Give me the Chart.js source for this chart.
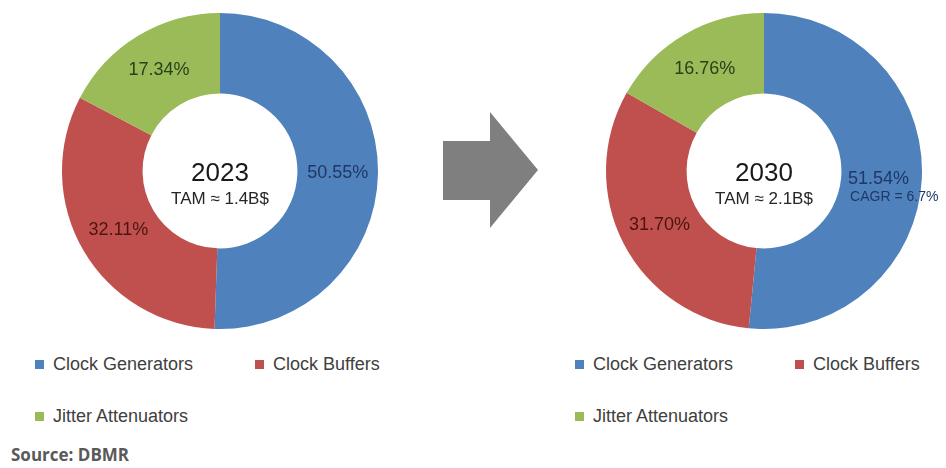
<!DOCTYPE html>
<html>
<head>
<meta charset="utf-8">
<script src="https://cdn.jsdelivr.net/npm/chart.js@4"></script>
<style>
  html, body { margin: 0; padding: 0; background: #fff; }
  #stage { position: relative; width: 946px; height: 468px; overflow: hidden; font-family: Arial, "Liberation Sans", sans-serif; }
  canvas { position: absolute; }
  #arrow {
    position: absolute; left: 443px; top: 112px; width: 95px; height: 116px; background: #7f7f7f;
    clip-path: polygon(0 29px, 47px 29px, 47px 0, 95px 58px, 47px 116px, 47px 88px, 0 88px);
  }
  .legend { position: absolute; top: 352px; }
  .legend .item { position: absolute; white-space: nowrap; font-size: 18px; color: #404040; line-height: 24px; }
  .legend .box { position: absolute; left: 0; top: 8px; width: 9px; height: 9px; }
  .legend .txt { position: absolute; left: 18px; top: 0; }
  #source { position: absolute; left: 11px; top: 443px; font-family: "Open Sans", sans-serif; font-weight: bold; font-size: 17px; color: #595959; }
</style>
</head>
<body>
<div id="stage">
  <canvas id="chart2023" width="340" height="316" style="left:50px; top:13px;"></canvas>
  <canvas id="chart2030" width="364" height="316" style="left:582px; top:13px;"></canvas>
  <div id="arrow"></div>
  <div class="legend" id="legend2023" style="left:35px;"></div>
  <div class="legend" id="legend2030" style="left:575px;"></div>
  <div id="source">Source: DBMR</div>
</div>
<script>
// Données
const segments = ['Clock Generators', 'Clock Buffers', 'Jitter Attenuators'];
const share2023 = [50.55, 32.11, 17.34];
const share2030 = [51.54, 31.70, 16.76];
const years = ['2023', '2030'];
const tamLabels = ['TAM ≈ 1.4B$', 'TAM ≈ 2.1B$'];
const cagrLabel = 'CAGR = 6.7%';

// Styles
const sliceColors = ['#4f81bd', '#c0504d', '#9bbb59'];
const labelColors = ['#1f3864', '#4a1512', '#27411a'];

// Etiquettes sur les secteurs + texte central
const donutText = {
    id: 'donutText',
    afterDatasetsDraw(chart, args, opts) {
        const ctx = chart.ctx;
        const meta = chart.getDatasetMeta(0);
        const values = chart.data.datasets[0].data;
        ctx.save();
        ctx.textBaseline = 'middle';

        meta.data.forEach((arc, i) => {
            const pos = arc.tooltipPosition();
            const txt = values[i].toFixed(2) + '%';
            ctx.font = '18px Arial, "Liberation Sans", sans-serif';
            ctx.fillStyle = labelColors[i];
            if (i === 0 && opts.extra) {
                // ligne CAGR sous l'étiquette bleue
                const w = ctx.measureText(txt).width;
                const left = pos.x - w / 2 - 3;
                ctx.textAlign = 'left';
                ctx.fillText(txt, left, pos.y + 2);
                ctx.font = '14px Arial, "Liberation Sans", sans-serif';
                ctx.fillText(opts.extra, left + 2, pos.y + 20);
            } else {
                ctx.textAlign = 'center';
                ctx.fillText(txt, pos.x, pos.y);
            }
        });

        const cx = meta.data[0].x;
        const cy = meta.data[0].y;
        ctx.textAlign = 'center';
        ctx.fillStyle = '#1a1a1a';
        ctx.font = '26px Arial, "Liberation Sans", sans-serif';
        ctx.fillText(opts.year, cx, cy + 3);
        ctx.font = '17px Arial, "Liberation Sans", sans-serif';
        ctx.fillStyle = '#262626';
        ctx.fillText(opts.tam, cx, cy + 28);
        ctx.restore();
    }
};

function makeDonut(id, values, year, tam, extra) {
    return new Chart(document.getElementById(id).getContext('2d'), {
        type: 'doughnut',
        data: {
            labels: segments,
            datasets: [{
                data: values,
                backgroundColor: sliceColors,
                borderWidth: 0
            }]
        },
        options: {
            responsive: false,
            animation: false,
            cutout: '49%',
            layout: { padding: 0 },
            plugins: {
                legend: { display: false },
                tooltip: { enabled: false },
                donutText: { year: year, tam: tam, extra: extra }
            }
        },
        plugins: [donutText]
    });
}

function buildLegend(id) {
    const el = document.getElementById(id);
    segments.forEach((name, i) => {
        const item = document.createElement('div');
        item.className = 'item';
        item.style.left = (i % 2) * 220 + 'px';
        item.style.top = Math.floor(i / 2) * 52 + 'px';
        item.innerHTML = '<span class="box" style="background:' + sliceColors[i] + '"></span><span class="txt">' + name + '</span>';
        el.appendChild(item);
    });
}

makeDonut('chart2023', share2023, years[0], tamLabels[0], null);
makeDonut('chart2030', share2030, years[1], tamLabels[1], cagrLabel);
buildLegend('legend2023');
buildLegend('legend2030');
</script>
</body>
</html>
